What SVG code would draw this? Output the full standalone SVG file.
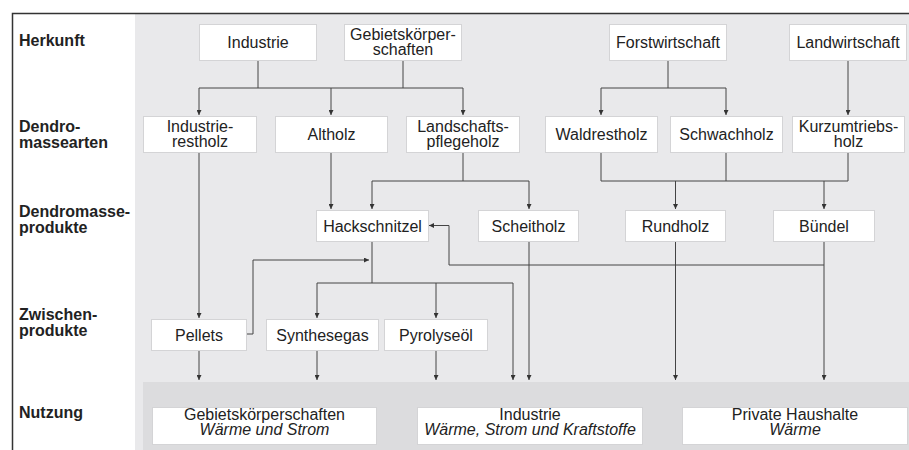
<svg xmlns="http://www.w3.org/2000/svg" width="909" height="450" viewBox="0 0 909 450">
<defs>
<style>
.bx{fill:#fff;stroke:#d4d4d6;stroke-width:1}
.t{font-family:"Liberation Sans",Arial,sans-serif;font-size:16px;fill:#222;text-anchor:middle}
.it{font-style:italic}
.lb{font-family:"Liberation Sans",Arial,sans-serif;font-size:16px;font-weight:bold;fill:#222}
.c{fill:none;stroke:#444;stroke-width:1}
.ca{fill:none;stroke:#444;stroke-width:1;marker-end:url(#ah)}
</style>
<marker id="ah" viewBox="0 0 8 8" refX="8" refY="4" markerWidth="5" markerHeight="5" markerUnits="userSpaceOnUse" orient="auto"><path d="M0,0 L8,4 L0,8 z" fill="#333"/></marker>
</defs>
<rect x="0" y="0" width="909" height="450" fill="#fff"/>
<rect x="135" y="14" width="774" height="436" fill="#e9e9eb"/>
<rect x="143" y="382" width="766" height="68" fill="#dcdcde"/>
<path d="M12.5,450 V13.5 H909" fill="none" stroke="#333" stroke-width="1.5"/>

<g id="labels">
<text class="lb" x="19" y="46">Herkunft</text>
<text class="lb" x="19" y="132">Dendro-<tspan x="19" dy="16">massearten</tspan></text>
<text class="lb" x="19" y="217">Dendromasse-<tspan x="19" dy="16">produkte</tspan></text>
<text class="lb" x="19" y="320">Zwischen-<tspan x="19" dy="16">produkte</tspan></text>
<text class="lb" x="19" y="418">Nutzung</text>
</g>

<g id="connectors">
<path class="c" d="M258,60 V88 M403,60 V88 M199,88 H463"/>
<path class="ca" d="M199,88 V115"/>
<path class="ca" d="M331,88 V115"/>
<path class="ca" d="M463,88 V115"/>
<path class="c" d="M668,60 V88 M601,88 H726"/>
<path class="ca" d="M601,88 V115"/>
<path class="ca" d="M726,88 V115"/>
<path class="ca" d="M848,60 V115"/>
<path class="ca" d="M199,152 V318"/>
<path class="ca" d="M331,152 V209"/>
<path class="c" d="M463,152 V181 M372,181 H529"/>
<path class="ca" d="M372,181 V209"/>
<path class="ca" d="M529,181 V209"/>
<path class="c" d="M601,152 V181 M726,152 V181 M848,152 V181 M601,181 H848"/>
<path class="ca" d="M675.5,181 V209"/>
<path class="ca" d="M824,181 V209"/>
<path class="ca" d="M824,241 V380"/>
<path class="ca" d="M824,265 H449 V225.5 H429"/>
<path class="ca" d="M675.5,241 V380"/>
<path class="ca" d="M529,241 V380"/>
<path class="c" d="M372,241 V283 M317,283 H513"/>
<path class="ca" d="M317,283 V318"/>
<path class="ca" d="M436,283 V318"/>
<path class="ca" d="M513,283 V380"/>
<path class="ca" d="M247,334 H253 V260 H369"/>
<path class="ca" d="M199,351 V380"/>
<path class="ca" d="M317,351 V380"/>
<path class="ca" d="M436,351 V380"/>
</g>

<g id="n-industrie"><rect class="bx" x="199.5" y="24.5" width="117" height="36"/><text class="t" x="258" y="48">Industrie</text></g>
<g id="n-gebiet"><rect class="bx" x="344.5" y="24.5" width="117" height="36"/><text class="t" x="403" y="40">Gebietskörper-<tspan x="403" dy="15">schaften</tspan></text></g>
<g id="n-forst"><rect class="bx" x="609.5" y="24.5" width="117" height="36"/><text class="t" x="668" y="48">Forstwirtschaft</text></g>
<g id="n-land"><rect class="bx" x="789.5" y="24.5" width="117" height="36"/><text class="t" x="848" y="48">Landwirtschaft</text></g>

<g id="n-irest"><rect class="bx" x="143.5" y="116.5" width="113" height="36"/><text class="t" x="200" y="131.5">Industrie-<tspan x="200" dy="15">restholz</tspan></text></g>
<g id="n-altholz"><rect class="bx" x="275.5" y="116.5" width="112" height="36"/><text class="t" x="331.5" y="140">Altholz</text></g>
<g id="n-landschaft"><rect class="bx" x="406.5" y="116.5" width="113" height="36"/><text class="t" x="463" y="131.5">Landschafts-<tspan x="463" dy="15">pflegeholz</tspan></text></g>
<g id="n-waldrest"><rect class="bx" x="545.5" y="116.5" width="112" height="36"/><text class="t" x="601.5" y="140">Waldrestholz</text></g>
<g id="n-schwach"><rect class="bx" x="670.5" y="116.5" width="112" height="36"/><text class="t" x="726.5" y="140">Schwachholz</text></g>
<g id="n-kurz"><rect class="bx" x="792.5" y="116.5" width="112" height="36"/><text class="t" x="848.5" y="131.5">Kurzumtriebs-<tspan x="848.5" dy="15">holz</tspan></text></g>

<g id="n-hack"><rect class="bx" x="316.5" y="210.5" width="112" height="31"/><text class="t" x="372.5" y="231.5">Hackschnitzel</text></g>
<g id="n-scheit"><rect class="bx" x="478.5" y="210.5" width="100" height="31"/><text class="t" x="528.5" y="231.5">Scheitholz</text></g>
<g id="n-rund"><rect class="bx" x="625.5" y="210.5" width="100" height="31"/><text class="t" x="675.5" y="231.5">Rundholz</text></g>
<g id="n-buendel"><rect class="bx" x="773.5" y="210.5" width="101" height="31"/><text class="t" x="824" y="231.5">Bündel</text></g>

<g id="n-pellets"><rect class="bx" x="151.5" y="319.5" width="95" height="31"/><text class="t" x="199" y="340.5">Pellets</text></g>
<g id="n-synth"><rect class="bx" x="266.5" y="319.5" width="112" height="31"/><text class="t" x="322.5" y="340.5">Synthesegas</text></g>
<g id="n-pyro"><rect class="bx" x="384.5" y="319.5" width="103" height="31"/><text class="t" x="436" y="340.5">Pyrolyseöl</text></g>

<g id="n-u-gebiet"><rect class="bx" x="152.5" y="407.5" width="224" height="37"/><text class="t" x="264.5" y="419.5">Gebietskörperschaften<tspan class="it" x="264.5" dy="15">Wärme und Strom</tspan></text></g>
<g id="n-u-industrie"><rect class="bx" x="417.5" y="407.5" width="225" height="37"/><text class="t" x="530" y="419.5">Industrie<tspan class="it" x="530" dy="15">Wärme, Strom und Kraftstoffe</tspan></text></g>
<g id="n-u-privat"><rect class="bx" x="682.5" y="407.5" width="225" height="37"/><text class="t" x="795" y="419.5">Private Haushalte<tspan class="it" x="795" dy="15">Wärme</tspan></text></g>
</svg>
